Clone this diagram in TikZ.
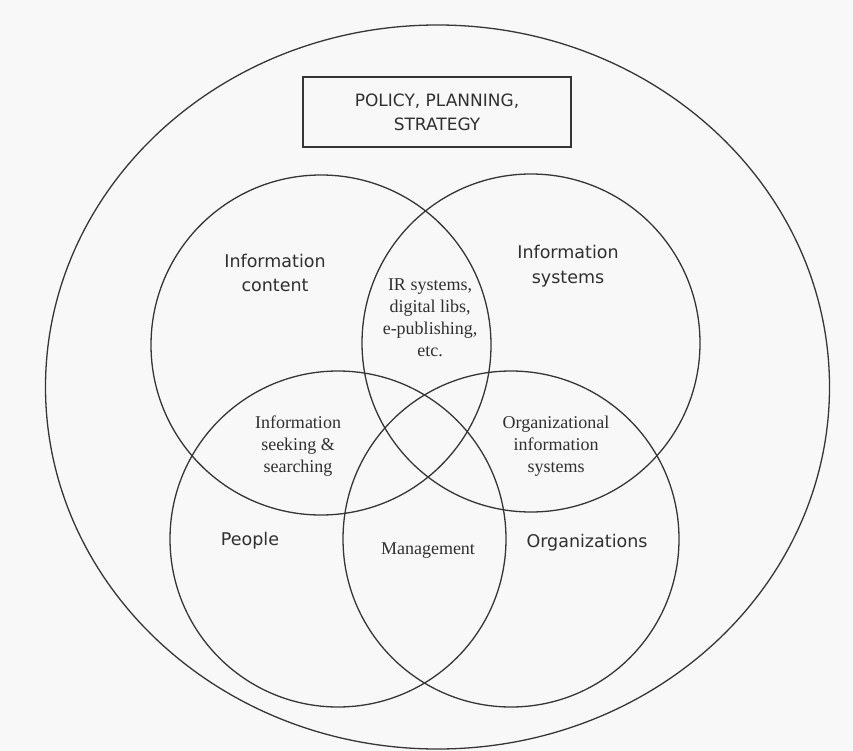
\documentclass[tikz,border=0pt]{standalone}
\usepackage{fontspec}
\setmainfont{Liberation Serif}
\newfontfamily\comicf{DejaVu Sans}
\usetikzlibrary{shapes.geometric}
\definecolor{linec}{HTML}{363636}
\definecolor{bgc}{HTML}{F8F8F8}
\definecolor{txtc}{HTML}{303030}
\begin{document}
\begin{tikzpicture}[x=1pt,y=-1pt,
  ring/.style={circle,draw=linec,line width=1.3pt,minimum size=#1,inner sep=0pt},
  outerring/.style={ellipse,draw=linec,line width=1.3pt,minimum width=784pt,minimum height=724pt,inner sep=0pt},
  boxnode/.style={draw=linec,line width=1.3pt,minimum width=268pt,minimum height=70pt,inner sep=0pt,
    align=center,text=txtc,font=\comicf\fontsize{17}{24}\selectfont},
  maintext/.style={align=center,text=txtc,inner sep=0pt,font=\comicf\fontsize{17.5}{24.5}\selectfont},
  serftext/.style={align=center,text=txtc,inner sep=0pt,font=\fontsize{18}{22}\selectfont}
]
\fill[bgc] (0,0) rectangle (853,751);
\useasboundingbox (0,0) rectangle (853,751);

\node[outerring] (outer) at (437.5,387) {};
\node[boxnode] (policy) at (437,112) {POLICY, PLANNING,\\STRATEGY};

\node[ring=340pt] (content) at (321,345) {};
\node[ring=338pt] (systems) at (531,343) {};
\node[ring=336pt] (people) at (338,539) {};
\node[ring=336pt] (orgs) at (511,539) {};

\node[maintext] (tcontent) at (275,273) {Information\\content};
\node[maintext] (tsystems) at (568,266) {Information\\systems};
\node[maintext] (tpeople) at (250,541) {People};
\node[maintext] (torgs) at (587,543) {Organizations};

\node[serftext] (tir) at (430,318) {IR systems,\\digital libs,\\e-publishing,\\etc.};
\node[serftext] (tseek) at (298,446) {Information\\seeking \&\\searching};
\node[serftext] (torgsys) at (556,446) {Organizational\\information\\systems};
\node[serftext] (tmgmt) at (428,551) {Management};
\end{tikzpicture}
\end{document}
